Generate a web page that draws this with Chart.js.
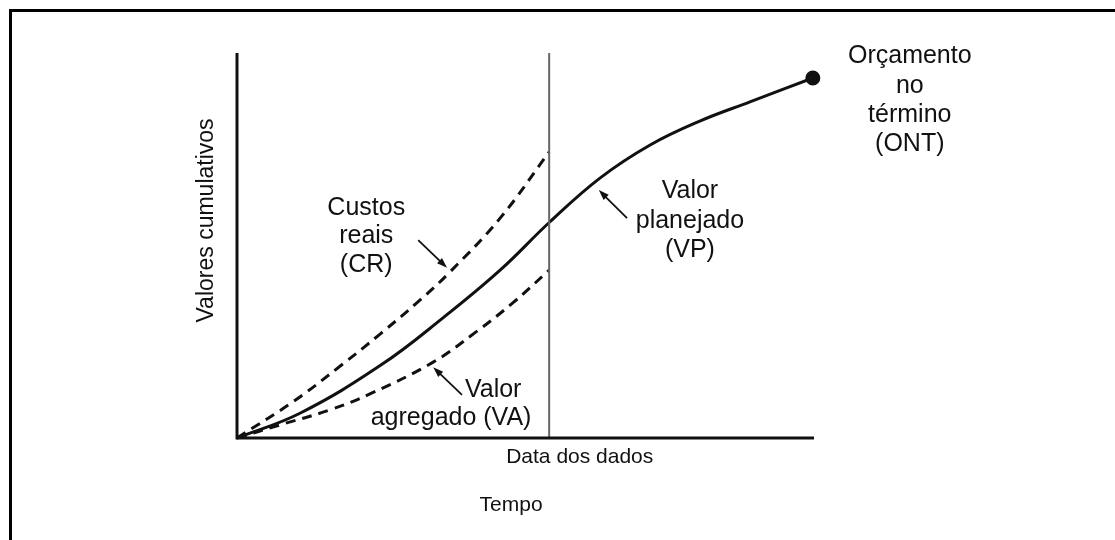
<!DOCTYPE html>
<html lang="pt">

<head>
  <meta charset="UTF-8" />
  <title>Valores cumulativos - VP, CR, VA</title>
  <script src="https://cdn.jsdelivr.net/npm/chart.js"></script>
  <style>
    body {
      margin: 0;
      background: #fff;
      overflow: hidden;
    }

    #chart-container {
      position: relative;
      width: 1115px;
      height: 540px;
    }
  </style>
</head>

<body>

  <div id="chart-container">
    <canvas id="evmChart" width="1115" height="540"></canvas>
  </div>

  <script>
    // Valor planejado (VP) - curva em S até o orçamento no término
    const tempoVP = [0, 11, 25, 35.7, 45.6, 54.2, 62.9, 71.6, 80.2, 88.9, 99.8];
    const valorVP = [0, 6.5, 19.0, 31.2, 43.6, 56.1, 67.5, 76.1, 82.3, 87.3, 93.5];

    // Custos reais (CR) - até a data dos dados
    const tempoCR = [0, 9.7, 17.9, 24.8, 31.7, 36.9, 45.6, 54.1];
    const valorCR = [0, 9.4, 18.7, 27.0, 35.8, 43.1, 57.1, 74.3];

    // Valor agregado (VA) - até a data dos dados
    const tempoVA = [0, 7.45, 16.1, 23.4, 34.0, 41.2, 47.8, 54.1];
    const valorVA = [0, 3.4, 7.3, 11.7, 19.7, 27.3, 35.1, 43.6];

    const dataDosDados = 54.1;

    // textos (posição em unidades do gráfico)
    const rotulos = [
      { linhas: ['Custos', 'reais', '(CR)'], x: 22.4, y: [57.9, 50.6, 43.1] },
      { linhas: ['Valor', 'planejado', '(VP)'], x: 78.5, y: [62.3, 54.5, 47.0] },
      { linhas: ['Valor'], x: 44.4, y: [10.6] },
      { linhas: ['agregado (VA)'], x: 37.1, y: [3.4] },
      { linhas: ['Orçamento', 'no', 'término', '(ONT)'], x: 116.6, y: [97.4, 89.6, 82.1, 74.5] }
    ];

    // setas: [x0, y0, x1, y1] com a ponta no fim
    const setas = [
      [31.4, 51.4, 36.4, 44.2],
      [67.6, 57.1, 62.7, 64.4],
      [39.0, 11.2, 34.0, 18.4]
    ];

    const fonte = '"Liberation Sans", Arial, sans-serif';

    function pontos(xs, ys) {
      return xs.map((x, i) => ({ x: x, y: ys[i] }));
    }

    // Desenha moldura, eixos, linha da data, textos e setas
    const extras = {
      id: 'extras',
      beforeDraw(chart) {
        const ctx = chart.ctx;
        ctx.save();
        ctx.strokeStyle = '#000';
        ctx.lineWidth = 3;
        ctx.strokeRect(10.5, 10.5, 1300, 700);
        ctx.restore();
      },
      afterDatasetsDraw(chart) {
        const ctx = chart.ctx;
        const sx = chart.scales.x;
        const sy = chart.scales.y;
        const px = v => sx.getPixelForValue(v);
        const py = v => sy.getPixelForValue(v);

        ctx.save();
        // linha da data dos dados
        ctx.strokeStyle = '#666';
        ctx.lineWidth = 2;
        ctx.beginPath();
        ctx.moveTo(px(dataDosDados), py(100));
        ctx.lineTo(px(dataDosDados), py(0));
        ctx.stroke();

        // eixos
        ctx.strokeStyle = '#111';
        ctx.lineWidth = 3;
        ctx.beginPath();
        ctx.moveTo(px(0), py(100));
        ctx.lineTo(px(0), py(0));
        ctx.lineTo(px(100), py(0));
        ctx.stroke();

        // textos
        ctx.fillStyle = '#111';
        ctx.textAlign = 'center';
        ctx.textBaseline = 'alphabetic';
        ctx.font = '25px ' + fonte;
        rotulos.forEach(r => {
          r.linhas.forEach((t, i) => ctx.fillText(t, px(r.x), py(r.y[i])));
        });

        ctx.font = '21px ' + fonte;
        ctx.fillText('Data dos dados', px(59.4), py(-6.5));
        ctx.fillText('Tempo', px(47.5), py(-19.0));

        ctx.save();
        ctx.translate(px(-4.2), py(56.5));
        ctx.rotate(-Math.PI / 2);
        ctx.font = '23px ' + fonte;
        ctx.fillText('Valores cumulativos', 0, 0);
        ctx.restore();

        // setas
        ctx.strokeStyle = '#111';
        ctx.lineWidth = 1.8;
        setas.forEach(s => {
          const x0 = px(s[0]), y0 = py(s[1]), x1 = px(s[2]), y1 = py(s[3]);
          const ang = Math.atan2(y1 - y0, x1 - x0);
          ctx.beginPath();
          ctx.moveTo(x0, y0);
          ctx.lineTo(x1 - 6 * Math.cos(ang), y1 - 6 * Math.sin(ang));
          ctx.stroke();
          ctx.beginPath();
          ctx.moveTo(x1, y1);
          ctx.lineTo(x1 - 11 * Math.cos(ang - 0.33), y1 - 11 * Math.sin(ang - 0.33));
          ctx.lineTo(x1 - 11 * Math.cos(ang + 0.33), y1 - 11 * Math.sin(ang + 0.33));
          ctx.closePath();
          ctx.fill();
        });
        ctx.restore();
      }
    };

    const ctx = document.getElementById('evmChart').getContext('2d');

    new Chart(ctx, {
      type: 'line',
      data: {
        datasets: [
          {
            label: 'Valor planejado (VP)',
            data: pontos(tempoVP, valorVP),
            borderColor: '#111',
            backgroundColor: '#111',
            borderWidth: 3,
            tension: 0.4,
            pointRadius: c => (c.dataIndex === tempoVP.length - 1 ? 6 : 0),
            clip: 10
          },
          {
            label: 'Custos reais (CR)',
            data: pontos(tempoCR, valorCR),
            borderColor: '#111',
            borderWidth: 3,
            borderDash: [10, 7],
            tension: 0.4,
            pointRadius: 0,
            clip: 10
          },
          {
            label: 'Valor agregado (VA)',
            data: pontos(tempoVA, valorVA),
            borderColor: '#111',
            borderWidth: 3,
            borderDash: [10, 7],
            tension: 0.4,
            pointRadius: 0,
            clip: 10
          }
        ]
      },
      options: {
        responsive: false,
        animation: false,
        layout: {
          padding: { left: 237, right: 301, top: 53, bottom: 102 }
        },
        plugins: {
          legend: { display: false },
          tooltip: { enabled: false }
        },
        scales: {
          x: { type: 'linear', min: 0, max: 100, display: false },
          y: { type: 'linear', min: 0, max: 100, display: false }
        }
      },
      plugins: [extras]
    });
  </script>

</body>

</html>
